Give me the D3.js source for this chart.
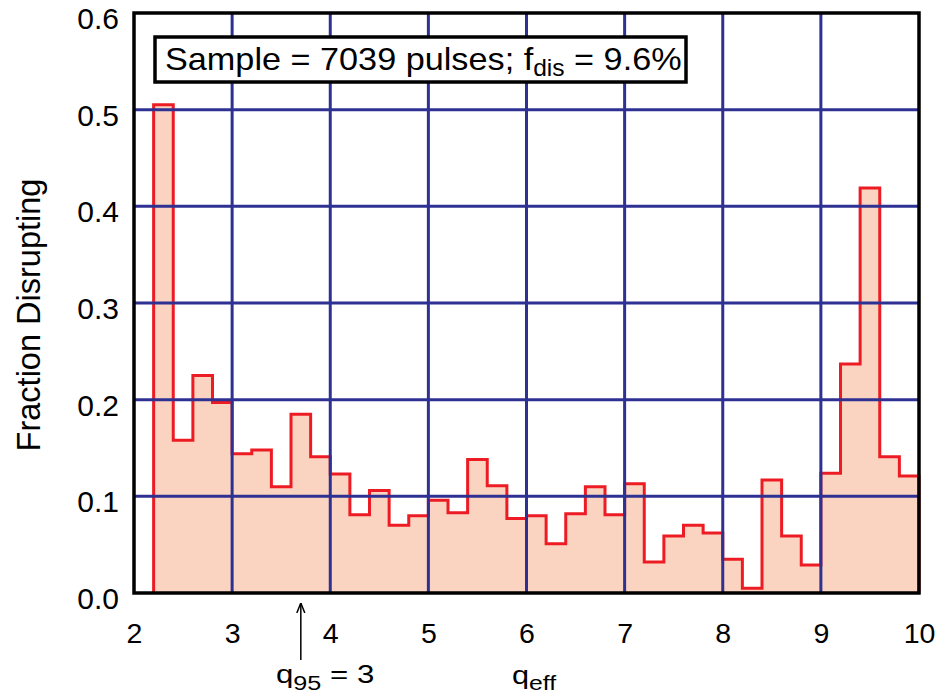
<!DOCTYPE html>
<html>
<head>
<meta charset="utf-8">
<script src="https://cdn.jsdelivr.net/npm/d3@7"></script>
<style>
  html, body { margin: 0; padding: 0; background: #fff; }
  svg { display: block; }
  text { font-family: "Liberation Sans", Arial, Helvetica, sans-serif; fill: #000; }
</style>
</head>
<body>
<svg id="chart" width="938" height="696"></svg>
<script>
// ---- data ----
const binLo = [2.2, 2.4, 2.6, 2.8, 3.0, 3.2, 3.4, 3.6, 3.8, 4.0,
               4.2, 4.4, 4.6, 4.8, 5.0, 5.2, 5.4, 5.6, 5.8, 6.0,
               6.2, 6.4, 6.6, 6.8, 7.0, 7.2, 7.4, 7.6, 7.8, 8.0,
               8.2, 8.4, 8.6, 8.8, 9.0, 9.2, 9.4, 9.6, 9.8];
const binWidth = 0.2;
const fraction = [0.505, 0.158, 0.225, 0.197, 0.144, 0.148, 0.110, 0.185, 0.141, 0.123,
                  0.081, 0.106, 0.070, 0.080, 0.096, 0.083, 0.138, 0.111, 0.077, 0.080,
                  0.051, 0.082, 0.110, 0.081, 0.113, 0.032, 0.059, 0.070, 0.062, 0.035,
                  0.005, 0.117, 0.059, 0.029, 0.124, 0.237, 0.419, 0.141, 0.121];
const xTicks = [2, 3, 4, 5, 6, 7, 8, 9, 10];
const yTicks = [0.0, 0.1, 0.2, 0.3, 0.4, 0.5, 0.6];
const xDomain = [2, 10];
const yDomain = [0, 0.6];
const q95Value = 3.7;
const q95Label = "3";
const sampleSize = 7039;
const fDis = "9.6%";

(function () {
// ---- layout ----
const svg = d3.select("#chart");
const pL = 134, pR = 919, pT = 13, pB = 593;
const x = d3.scaleLinear().domain(xDomain).range([pL, pR]);
const y = d3.scaleLinear().domain(yDomain).range([pB, pT]);

const navy = "#2E3192", red = "#ED1C24", fillC = "#FBD4C1";

// step points
const pts = [];
binLo.forEach((lo, i) => {
  const v = fraction[i];
  if (i === 0) pts.push([lo, 0]);
  pts.push([lo, v]);
  pts.push([lo + binWidth, v]);
});
pts.push([binLo[binLo.length - 1] + binWidth, 0]);

const area = d3.area().x(d => x(d[0])).y0(y(0)).y1(d => y(d[1]));
const line = d3.line().x(d => x(d[0])).y(d => y(d[1]));

svg.append("path").attr("d", area(pts)).attr("fill", fillC).attr("stroke", "none");
svg.append("path").attr("d", line(pts)).attr("fill", "none")
  .attr("stroke", red).attr("stroke-width", 3).attr("stroke-linejoin", "miter");

// grid
const grid = svg.append("g").attr("stroke", navy).attr("stroke-width", 3);
grid.selectAll("line.v").data(xTicks.filter(t => t > xDomain[0] && t < xDomain[1]))
  .enter().append("line").attr("class", "v")
  .attr("x1", d => x(d)).attr("x2", d => x(d)).attr("y1", pT).attr("y2", pB);
grid.selectAll("line.h").data(yTicks.filter(t => t > yDomain[0] && t < yDomain[1]))
  .enter().append("line").attr("class", "h")
  .attr("x1", pL).attr("x2", pR).attr("y1", d => y(d)).attr("y2", d => y(d));

// border
svg.append("rect").attr("x", pL).attr("y", pT).attr("width", pR - pL).attr("height", pB - pT)
  .attr("fill", "none").attr("stroke", "#000").attr("stroke-width", 3.5);

// axes (labels only)
const xAxis = d3.axisBottom(x).tickValues(xTicks).tickSize(0).tickPadding(0).tickFormat(d3.format("d"));
const gx = svg.append("g").attr("transform", `translate(0,${pB})`).call(xAxis);
gx.select(".domain").remove();
gx.selectAll("text").attr("y", 0).attr("dy", "50").style("font-size", "28.5px")
  .style("font-family", '"Liberation Sans", Arial, sans-serif').attr("fill", "#000");

const yAxis = d3.axisLeft(y).tickValues(yTicks).tickSize(0).tickPadding(15).tickFormat(d3.format(".1f"));
const gy = svg.append("g").attr("transform", `translate(${pL},0)`).call(yAxis);
gy.select(".domain").remove();
gy.selectAll("text").attr("dy", "15.5").style("font-size", "30px")
  .style("font-family", '"Liberation Sans", Arial, sans-serif').attr("fill", "#000");

// y label
svg.append("text").attr("transform", "translate(40,315) rotate(-90)")
  .attr("text-anchor", "middle").style("font-size", "32.5px").text("Fraction Disrupting");

// x label
const xl = svg.append("text").attr("transform", "translate(512,684) scale(1.18,1)").style("font-size", "26px");
xl.append("tspan").text("q");
xl.append("tspan").attr("dy", 6).style("font-size", "21px").text("eff");

// q95 annotation
const qx = x(q95Value);
svg.append("defs").append("marker").attr("id", "arr").attr("viewBox", "0 0 10 10")
  .attr("refX", 10).attr("refY", 5).attr("markerWidth", 10).attr("markerHeight", 14)
  .attr("markerUnits", "userSpaceOnUse").attr("orient", "auto")
  .append("path").attr("d", "M0,1 L10,5 L0,9").attr("fill", "none").attr("stroke", "#000").attr("stroke-width", 1.5);
svg.append("line").attr("x1", qx).attr("x2", qx).attr("y1", 660).attr("y2", 603)
  .attr("stroke", "#000").attr("stroke-width", 1.5).attr("marker-end", "url(#arr)");
const qt = svg.append("text").attr("transform", "translate(276,683) scale(1.2,1)").style("font-size", "26px");
qt.append("tspan").text("q");
qt.append("tspan").attr("dy", 7).style("font-size", "21px").text("95");
qt.append("tspan").attr("dy", -7).text(" = " + q95Label);

// sample box
svg.append("rect").attr("x", 155).attr("y", 37).attr("width", 531).attr("height", 45)
  .attr("fill", "#fff").attr("stroke", "#000").attr("stroke-width", 3.5);
const bt = svg.append("text").attr("transform", "translate(165,70) scale(1.07,1)").style("font-size", "32px");
bt.append("tspan").text(`Sample = ${sampleSize} pulses; f`);
bt.append("tspan").attr("dy", 6).style("font-size", "23px").text("dis");
bt.append("tspan").attr("dy", -6).text(` = ${fDis}`);
})();
</script>
</body>
</html>
